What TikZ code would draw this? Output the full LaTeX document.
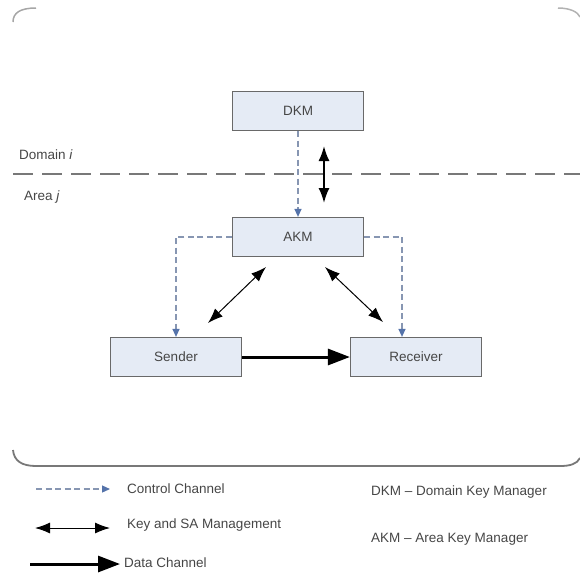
\documentclass[tikz,border=0pt]{standalone}
\usepackage{fontspec}
\setmainfont{Liberation Sans}
\usetikzlibrary{arrows.meta}
\definecolor{boxfill}{RGB}{229,235,245}
\definecolor{boxdraw}{RGB}{105,105,105}
\definecolor{ctrl}{RGB}{135,150,178}
\definecolor{ctrltip}{RGB}{85,115,170}
\definecolor{txt}{RGB}{70,70,70}
\definecolor{frame}{RGB}{120,120,120}
\tikzset{
  entity/.style={draw=boxdraw, fill=boxfill, line width=1.2pt, minimum width=131pt, minimum height=39pt, inner sep=0pt, font=\fontsize{13.5}{15}\selectfont, text=txt},
  lbl/.style={font=\fontsize{13.5}{15}\selectfont, text=txt, inner sep=0pt, anchor=west},
  ctrlline/.style={draw=ctrl, line width=1.2pt, dash pattern=on 6pt off 3.5pt, -{Triangle[length=8pt,width=7pt,color=ctrltip]}},
  keyline/.style={draw=black, line width=1pt, {Latex[length=15pt,width=11pt]}-{Latex[length=15pt,width=11pt]}},
  keythick/.style={draw=black, line width=1.8pt, {Latex[length=15pt,width=11pt]}-{Latex[length=15pt,width=11pt]}},
  dataline/.style={draw=black, line width=3pt, -{Triangle[length=22pt,width=16pt]}},
  sepline/.style={draw=frame, line width=2pt, dash pattern=on 20pt off 9pt},
}
\begin{document}
\begin{tikzpicture}[x=1pt,y=-1pt]
\useasboundingbox (0,0) rectangle (580,574);
% frame
\draw[gray!70, line width=1.5pt] (13,22) .. controls (13,13) and (20,8) .. (36,8);
\draw[gray!60, line width=1.5pt] (558,8) .. controls (570,8) and (578,12) .. (580,17);
\draw[frame, line width=1.8pt] (13,450) .. controls (14,461) and (22,466) .. (36,466) -- (560,466) .. controls (570,466) and (577,464) .. (580,458);
% separator
\draw[sepline] (13,174) -- (580,174);
\node[lbl] (dom) at (19,155) {Domain \textit{i}};
\node[lbl] (area) at (24,197) {Area \textit{j}};
% entities
\node[entity] (dkm) at (298,111) {DKM};
\node[entity] (akm) at (298,237) {AKM};
\node[entity] (snd) at (176,357) {Sender};
\node[entity] (rcv) at (416,357) {Receiver};
% control channels
\draw[ctrlline] (dkm.south) -- (akm.north);
\draw[ctrlline] (akm.west) -| (snd.north -| 176,0);
\draw[ctrlline] (akm.east) -| (402,0 |- rcv.north);
% key management
\coordinate (kt) at (324,146);
\coordinate (kb) at (324,203);
\draw[keythick] (kt) -- (kb);
\coordinate (l1) at (266,267);
\coordinate (l2) at (208,323);
\coordinate (r1) at (325,267);
\coordinate (r2) at (383,322);
\draw[keyline] (l1) -- (l2);
\draw[keyline] (r1) -- (r2);
% data channel
\draw[dataline] (snd.east) -- (rcv.west);
% legend
\coordinate (c1) at (36,489); \coordinate (c2) at (110,489);
\draw[ctrlline] (c1) -- (c2);
\node[lbl] (lc) at (127,489) {Control Channel};
\coordinate (k1) at (35,528); \coordinate (k2) at (110,528);
\draw[keyline] (k1) -- (k2);
\node[lbl] (lk) at (127,525) {Key and SA Management};
\coordinate (d1) at (30,564); \coordinate (d2) at (120,564);
\draw[dataline] (d1) -- (d2);
\node[lbl] (ld) at (124,563) {Data Channel};
\node[lbl] (ldkm) at (371,492) {DKM -- Domain Key Manager};
\node[lbl] (lakm) at (371,539) {AKM -- Area Key Manager};
\end{tikzpicture}
\end{document}
